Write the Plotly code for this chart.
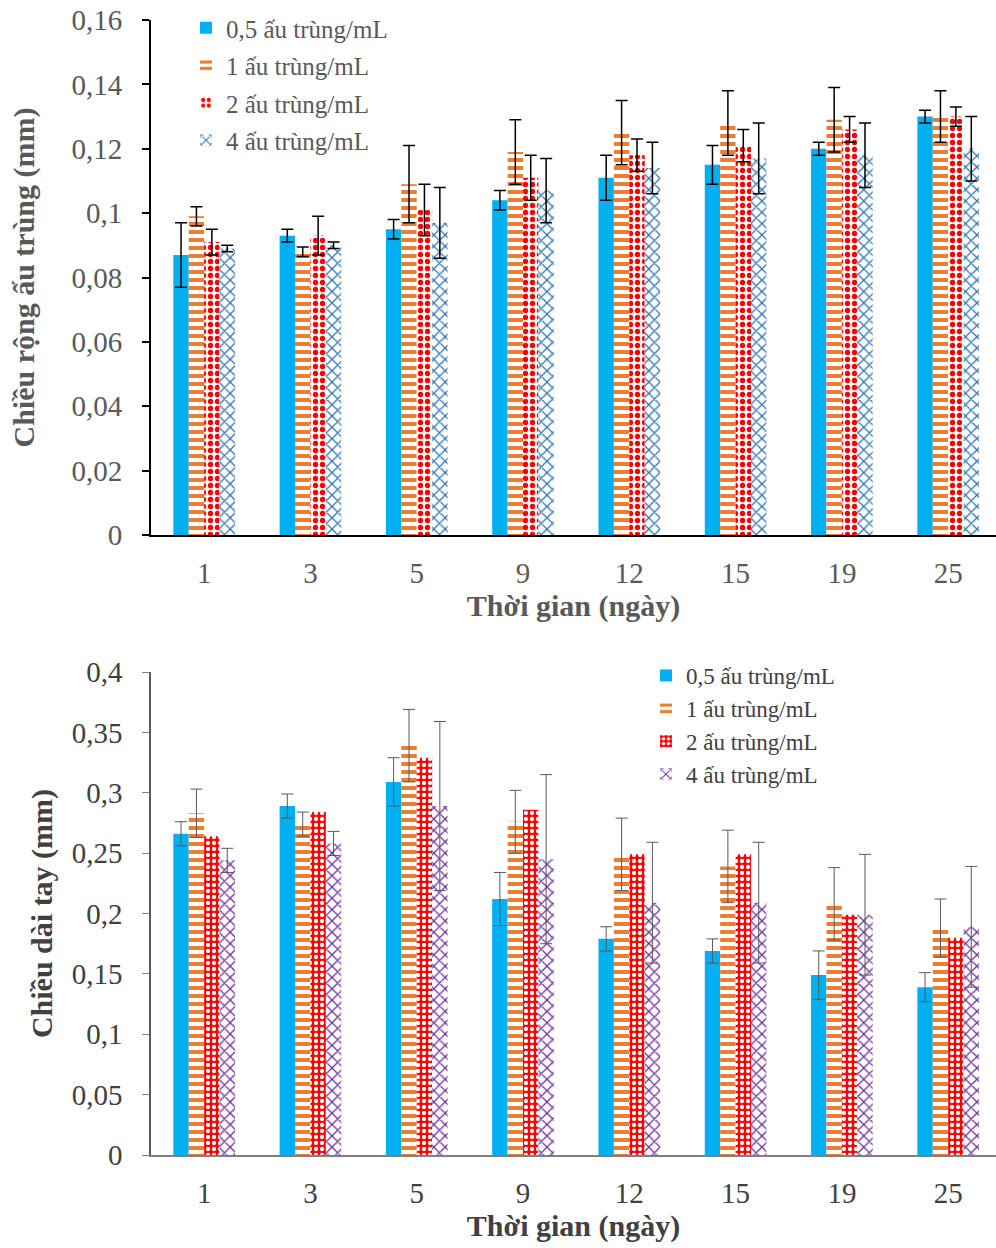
import plotly.graph_objects as go

days = ["1", "3", "5", "9", "12", "15", "19", "25"]
series_names = ["0,5 ấu trùng/mL", "1 ấu trùng/mL", "2 ấu trùng/mL", "4 ấu trùng/mL"]

# Top chart: larval width (mm)
width_05 = [0.087, 0.093, 0.095, 0.104, 0.111, 0.115, 0.120, 0.130]
width_05_err = [0.010, 0.002, 0.003, 0.003, 0.007, 0.006, 0.002, 0.002]
width_1 = [0.099, 0.088, 0.109, 0.119, 0.125, 0.128, 0.129, 0.130]
width_1_err = [0.003, 0.0015, 0.012, 0.010, 0.010, 0.010, 0.010, 0.008]
width_2 = [0.091, 0.093, 0.101, 0.111, 0.118, 0.121, 0.126, 0.130]
width_2_err = [0.004, 0.006, 0.008, 0.007, 0.005, 0.005, 0.004, 0.003]
width_4 = [0.089, 0.090, 0.097, 0.107, 0.114, 0.117, 0.118, 0.120]
width_4_err = [0.001, 0.001, 0.011, 0.010, 0.008, 0.011, 0.010, 0.010]

# Bottom chart: arm length (mm)
arm_05 = [0.266, 0.289, 0.309, 0.212, 0.179, 0.169, 0.149, 0.139]
arm_05_err = [0.010, 0.010, 0.020, 0.022, 0.010, 0.010, 0.020, 0.012]
arm_1 = [0.283, 0.274, 0.339, 0.276, 0.249, 0.239, 0.208, 0.188]
arm_1_err = [0.020, 0.010, 0.030, 0.026, 0.030, 0.030, 0.030, 0.024]
arm_2 = [0.264, 0.284, 0.329, 0.286, 0.249, 0.249, 0.199, 0.180]
arm_4 = [0.244, 0.258, 0.289, 0.245, 0.209, 0.209, 0.199, 0.189]
arm_4_err = [0.010, 0.010, 0.070, 0.070, 0.050, 0.050, 0.050, 0.050]

FONT = "Liberation Serif"
BLUE = "#00B0F0"
ORANGE = "#ED7D31"
RED = "#FF0000"
WAVE_TOP = "#2E75B6"
WAVE_BOT = "#7030A0"

fig = go.Figure()

top_patterns = [
    dict(shape=""),
    dict(shape="-", fgcolor=ORANGE, bgcolor="white", size=8, solidity=0.5, fgopacity=1),
    dict(shape=".", fgcolor=RED, bgcolor="white", size=7, solidity=0.45, fgopacity=1),
    dict(shape="x", fgcolor=WAVE_TOP, bgcolor="white", size=8, solidity=0.3, fgopacity=1),
]
bot_patterns = [
    dict(shape=""),
    dict(shape="-", fgcolor=ORANGE, bgcolor="white", size=8, solidity=0.5, fgopacity=1),
    dict(shape=".", fgcolor="white", bgcolor=RED, size=6, solidity=0.4, fgopacity=1),
    dict(shape="x", fgcolor=WAVE_BOT, bgcolor="white", size=8, solidity=0.3, fgopacity=1),
]
colors = [BLUE, ORANGE, RED, WAVE_TOP]
colors_bot = [BLUE, ORANGE, RED, WAVE_BOT]

top_vals = [width_05, width_1, width_2, width_4]
top_errs = [width_05_err, width_1_err, width_2_err, width_4_err]
for i in range(4):
    fig.add_trace(go.Bar(
        x=days, y=top_vals[i], name=series_names[i],
        marker=dict(color=colors[i], pattern=top_patterns[i], line=dict(width=0)),
        error_y=dict(type="data", array=top_errs[i], visible=True,
                     color="black", thickness=1.5, width=6),
        xaxis="x", yaxis="y", legend="legend", legendgroup="t%d" % i,
    ))

bot_vals = [arm_05, arm_1, arm_2, arm_4]
bot_errs = [arm_05_err, arm_1_err, None, arm_4_err]
for i in range(4):
    err = (dict(type="data", array=bot_errs[i], visible=True,
                color="#595959", thickness=1, width=6)
           if bot_errs[i] is not None else dict(visible=False))
    fig.add_trace(go.Bar(
        x=days, y=bot_vals[i], name=series_names[i],
        marker=dict(color=colors_bot[i], pattern=bot_patterns[i], line=dict(width=0)),
        error_y=err,
        xaxis="x2", yaxis="y2", legend="legend2",
    ))

H = 1248.0
W = 996.0
fig.update_layout(
    width=996, height=1248,
    margin=dict(l=0, r=0, t=0, b=0),
    paper_bgcolor="white", plot_bgcolor="white",
    font=dict(family=FONT, size=28, color="#595959"),
    barmode="group", bargap=0.42, bargroupgap=0,
    showlegend=True,
    xaxis=dict(domain=[151 / W, 1.0], range=[-0.5, 7.45], anchor="y", automargin=False,
               showline=True, linecolor="black", linewidth=2,
               ticks="", showgrid=False, ticklabelstandoff=11,
               tickfont=dict(family=FONT, size=29, color="#595959"),
               title=dict(text="<b>Thời gian (ngày)</b>", standoff=2,
                          font=dict(family=FONT, size=30, color="#595959"))),
    yaxis=dict(domain=[1 - 535 / H, 1 - 20 / H], range=[0, 0.16], anchor="x", automargin=False,
               tickvals=[0, 0.02, 0.04, 0.06, 0.08, 0.1, 0.12, 0.14, 0.16],
               ticktext=["0", "0,02", "0,04", "0,06", "0,08", "0,1", "0,12", "0,14", "0,16"],
               showline=True, linecolor="black", linewidth=2,
               ticks="outside", ticklen=7, tickcolor="black", tickwidth=1.5,
               showgrid=False, zeroline=False, ticklabelstandoff=14,
               tickfont=dict(family=FONT, size=29, color="#595959"),
               title=dict(text="<b>Chiều rộng ấu trùng (mm)</b>", standoff=28,
                          font=dict(family=FONT, size=30, color="#595959"))),
    xaxis2=dict(domain=[151 / W, 1.0], range=[-0.5, 7.45], anchor="y2", automargin=False,
                showline=True, linecolor="#7f7f7f", linewidth=1.5,
                ticks="", showgrid=False, ticklabelstandoff=11,
                tickfont=dict(family=FONT, size=29, color="#404040"),
                title=dict(text="<b>Thời gian (ngày)</b>", standoff=4,
                           font=dict(family=FONT, size=30, color="#404040"))),
    yaxis2=dict(domain=[1 - 1155 / H, 1 - 672 / H], range=[0, 0.4], anchor="x2", automargin=False,
                tickvals=[0, 0.05, 0.1, 0.15, 0.2, 0.25, 0.3, 0.35, 0.4],
                ticktext=["0", "0,05", "0,1", "0,15", "0,2", "0,25", "0,3", "0,35", "0,4"],
                showline=True, linecolor="#595959", linewidth=1.5,
                ticks="outside", ticklen=7, tickcolor="#7f7f7f", tickwidth=1,
                showgrid=False, zeroline=False, ticklabelstandoff=14,
                tickfont=dict(family=FONT, size=29, color="#404040"),
                title=dict(text="<b>Chiều dài tay (mm)</b>", standoff=10,
                           font=dict(family=FONT, size=30, color="#404040"))),
    legend=dict(x=186 / W, y=1 - 5 / H, xanchor="left", yanchor="top",
                bgcolor="rgba(0,0,0,0)", tracegroupgap=2,
                font=dict(family=FONT, size=25, color="#595959")),
    legend2=dict(x=646 / W, y=1 - 654 / H, xanchor="left", yanchor="top",
                 bgcolor="rgba(0,0,0,0)", tracegroupgap=0,
                 font=dict(family=FONT, size=23, color="#404040")),
)

fig.write_html("out.html")
